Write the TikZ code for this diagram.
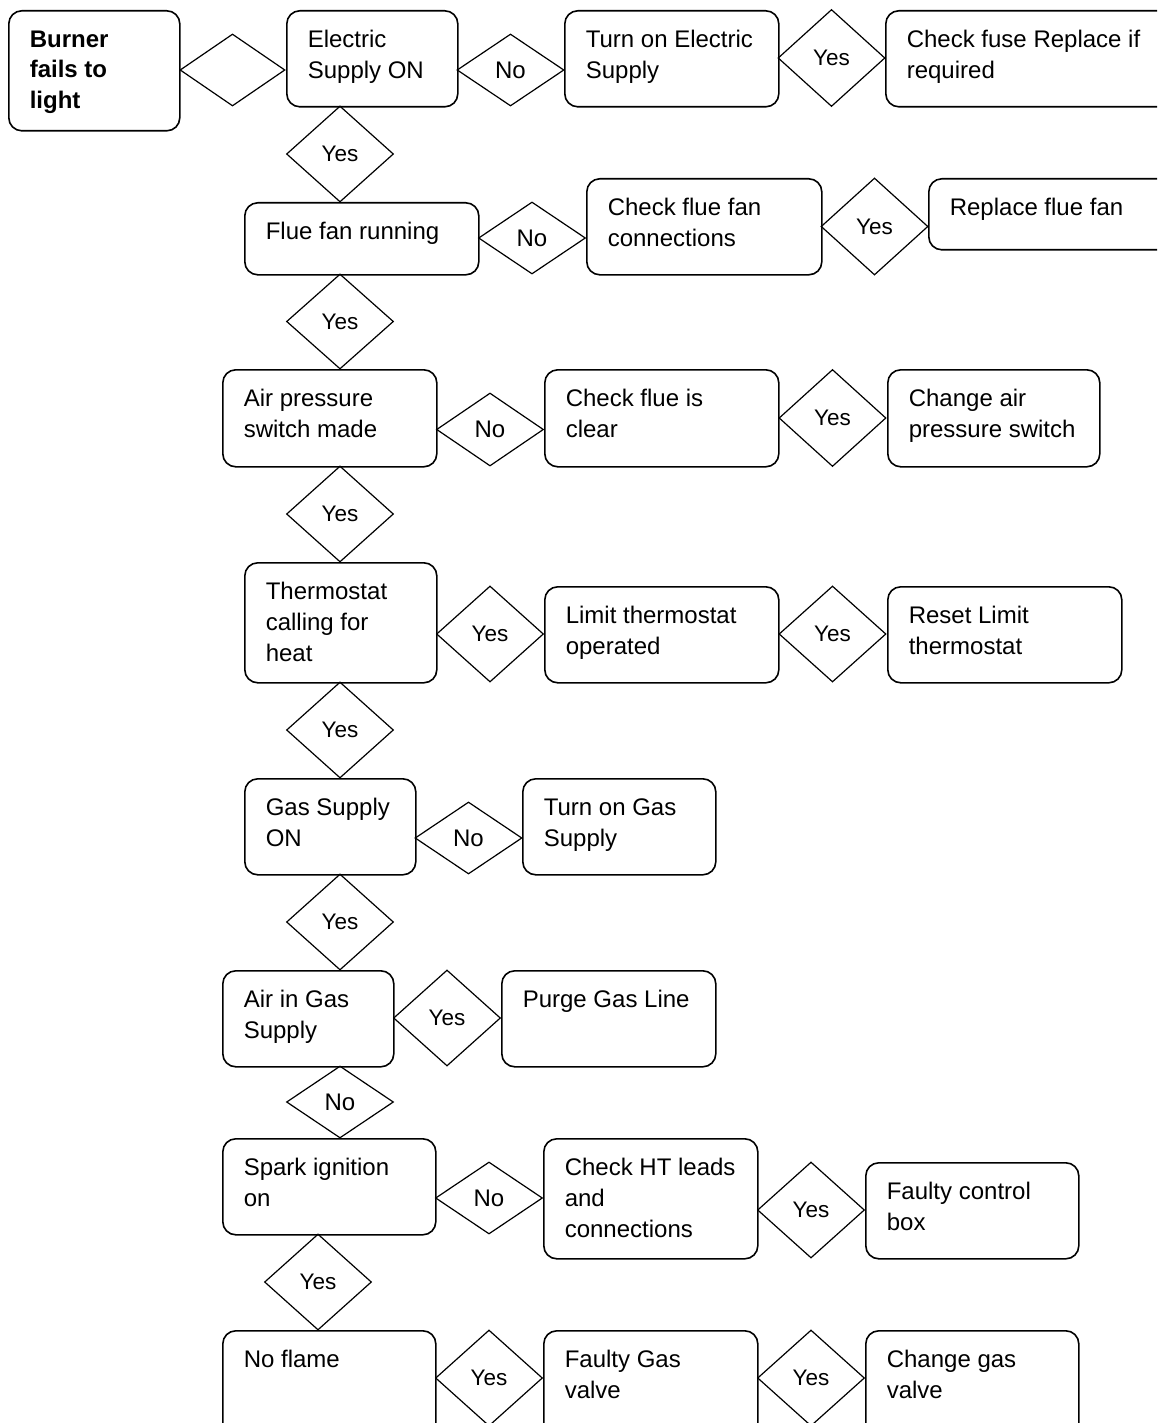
\documentclass[tikz,border=0pt]{standalone}
\usepackage{fontspec}
\setmainfont{Liberation Sans}
\usetikzlibrary{shapes.geometric}

\newcommand{\boxtext}[3]{\parbox[t][#2][t]{#1}{\raggedright\leftskip=21pt\vspace*{15pt}\strut #3}}

\tikzset{
  flowbox/.style={draw, rounded corners=13pt, line width=1.6pt, inner sep=0pt, anchor=north west},
  decide/.style={draw, diamond, line width=1.2pt, inner sep=0pt, font=\fontsize{22.5}{26}\selectfont},
  tall/.style={decide, minimum width=107pt, minimum height=97pt},
  flat/.style={decide, minimum width=107pt, minimum height=72pt, font=\fontsize{24}{28}\selectfont},
}

\begin{document}
\begin{tikzpicture}[x=1pt, y=-1pt, font=\fontsize{24}{31}\selectfont]
\useasboundingbox (0,0) rectangle (1157,1423);
\clip (0,0) rectangle (1157,1423);

\node[flowbox, font=\fontsize{24}{30.5}\selectfont\bfseries] (burner) at (8,10) {\boxtext{171pt}{120pt}{Burner\\fails to\\light}};
\node[flowbox] (elec) at (286,10) {\boxtext{171pt}{96pt}{Electric\\Supply ON}};
\node[flowbox] (turnelec) at (564,10) {\boxtext{214pt}{96pt}{Turn on Electric\\Supply}};
\node[flowbox] (fuse) at (885,10) {\boxtext{290pt}{96pt}{Check fuse Replace if\\required}};

\node[flowbox] (fluefan) at (244,202) {\boxtext{234pt}{72pt}{Flue fan running}};
\node[flowbox] (chkfan) at (586,178) {\boxtext{235pt}{96pt}{Check flue fan\\connections}};
\node[flowbox] (replfan) at (928,178) {\boxtext{260pt}{71pt}{Replace flue fan}};

\node[flowbox] (airsw) at (222,369) {\boxtext{214pt}{97pt}{Air pressure\\switch made}};
\node[flowbox] (chkflue) at (544,369) {\boxtext{234pt}{97pt}{Check flue is\\clear}};
\node[flowbox] (chgair) at (887,369) {\boxtext{212pt}{97pt}{Change air\\pressure switch}};

\node[flowbox] (thermo) at (244,562) {\boxtext{192pt}{120pt}{Thermostat\\calling for\\heat}};
\node[flowbox] (limit) at (544,586) {\boxtext{234pt}{96pt}{Limit thermostat\\operated}};
\node[flowbox] (reset) at (887,586) {\boxtext{234pt}{96pt}{Reset Limit\\thermostat}};

\node[flowbox] (gas) at (244,778) {\boxtext{171pt}{96pt}{Gas Supply\\ON}};
\node[flowbox] (turngas) at (522,778) {\boxtext{193pt}{96pt}{Turn on Gas\\Supply}};

\node[flowbox] (airgas) at (222,970) {\boxtext{171pt}{96pt}{Air in Gas\\Supply}};
\node[flowbox] (purge) at (501,970) {\boxtext{214pt}{96pt}{Purge Gas Line}};

\node[flowbox] (spark) at (222,1138) {\boxtext{213pt}{96pt}{Spark ignition\\on}};
\node[flowbox] (htleads) at (543,1138) {\boxtext{214pt}{120pt}{Check HT leads\\and\\connections}};
\node[flowbox] (ctrlbox) at (865,1162) {\boxtext{213pt}{96pt}{Faulty control\\box}};

\node[flowbox] (noflame) at (222,1330) {\boxtext{213pt}{120pt}{No flame}};
\node[flowbox] (gasvalve) at (543,1330) {\boxtext{214pt}{120pt}{Faulty Gas\\valve}};
\node[flowbox] (chgvalve) at (865,1330) {\boxtext{213pt}{120pt}{Change gas\\valve}};

\node[flat, minimum width=105pt] (d0) at (232.5,70) {};
\node[flat] (d1) at (510.5,70) {No};
\node[tall] (d2) at (831.5,58) {Yes};
\node[tall, minimum height=96pt] (d3) at (340,154) {Yes};
\node[flat] (d4) at (532,238) {No};
\node[tall] (d5) at (874.5,226.5) {Yes};
\node[tall, minimum height=95pt] (d6) at (340,321.5) {Yes};
\node[flat, minimum height=73pt] (d7) at (490,429.5) {No};
\node[tall] (d8) at (832.5,418) {Yes};
\node[tall, minimum height=96pt] (d9) at (340,514) {Yes};
\node[tall, minimum height=96pt] (d10) at (490,634) {Yes};
\node[tall, minimum height=96pt] (d11) at (832.5,634) {Yes};
\node[tall, minimum height=96pt] (d12) at (340,730) {Yes};
\node[flat] (d13) at (468.5,838) {No};
\node[tall, minimum height=96pt] (d14) at (340,922) {Yes};
\node[tall, minimum height=96pt] (d15) at (447,1018) {Yes};
\node[flat] (d16) at (340,1102) {No};
\node[flat] (d17) at (489,1198) {No};
\node[tall, minimum height=96pt] (d18) at (811,1210) {Yes};
\node[tall, minimum height=96pt] (d19) at (318,1282) {Yes};
\node[tall, minimum height=96pt] (d20) at (489,1378) {Yes};
\node[tall, minimum height=96pt] (d21) at (811,1378) {Yes};
\end{tikzpicture}
\end{document}
